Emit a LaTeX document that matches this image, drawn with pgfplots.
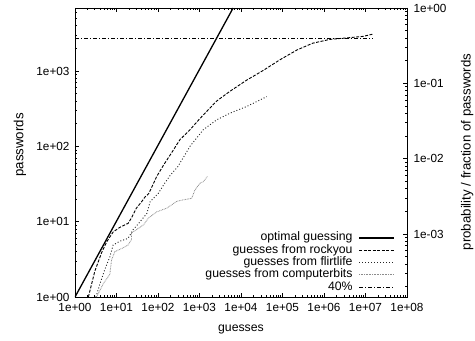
\documentclass[border=0pt]{standalone}
\usepackage{pgfplots}
\pgfplotsset{compat=1.18}
\usepackage{fontspec}
\setmainfont{Liberation Sans}

\pgfplotstableread{
x y
2.1 1
3.0 2.2
4.4 3.9
5.8 5.4
8.3 7.3
12 8.4
19 9.5
23 11.2
30 15.1
41 18.6
49 21.4
59 23.4
71 28.8
93 39.8
135 56
200 78
339 123
589 166
1023 234
2570 398
5370 537
13800 759
34700 1023
87100 1413
224000 1905
537000 2344
1380000 2630
3550000 2754
8700000 2884
15000000 3090
}\rockyou

\pgfplotstableread{
x y
3.2 1
4.0 1.5
5.2 2.3
6.9 3.4
8.3 4.9
12 5.5
19 6.0
25 7.8
37 10
54 12.9
65 18.6
100 23.4
145 32.4
200 41.7
300 53.7
589 100
1230 166
2570 224
5370 275
13800 339
41700 457
}\flirtlife

\pgfplotstableread{
x y
3.3 1
4.8 1.5
6.9 2.0
7.6 3.1
9.1 4.0
14.5 4.5
19 4.9
23 5.8
23 7.1
30 7.8
45 9.1
59 11.2
93 13.5
162 15.1
282 18.6
407 19.5
646 20.4
776 26.3
1023 32.4
1230 33.9
1550 39.8
}\computerbits

\begin{document}
\begin{tikzpicture}
\begin{axis}[
  scale only axis, width=332bp, height=289bp,
  xmode=log, ymode=log,
  xmin=1, xmax=1e8, ymin=1, ymax=6870,
  axis line style={line width=0.9bp},
  tick style={line width=0.6bp, black},
  tick align=inside,
  major tick length=4.5bp, minor tick length=2.5bp,
  xtick={1,10,100,1000,10000,100000,1000000,10000000,100000000},
  xticklabels={1e+00,1e+01,1e+02,1e+03,1e+04,1e+05,1e+06,1e+07,1e+08},
  minor xtick={2,3,4,5,6,7,8,9,20,30,40,50,60,70,80,90,200,300,400,500,600,700,800,900,2000,3000,4000,5000,6000,7000,8000,9000,20000,30000,40000,50000,60000,70000,80000,90000,200000,300000,400000,500000,600000,700000,800000,900000,2000000,3000000,4000000,5000000,6000000,7000000,8000000,9000000,20000000,30000000,40000000,50000000,60000000,70000000,80000000,90000000},
  ytick={1,10,100,1000},
  yticklabels={1e+00,1e+01,1e+02,1e+03},
  minor ytick={2,3,4,5,6,7,8,9,20,30,40,50,60,70,80,90,200,300,400,500,600,700,800,900,2000,3000,4000,5000,6000},
  ytick pos=left,
  xtick pos=both,
  tick label style={font=\fontsize{11.8}{13}\selectfont},
  xticklabel style={yshift=-3bp},
  yticklabel style={xshift=-2bp},
  xlabel={guesses},
  ylabel={passwords},
  every axis x label/.style={at={(axis description cs:0.5,-0.114)}, anchor=center, font=\fontsize{12.3}{14}\selectfont},
  every axis y label/.style={at={(axis description cs:-0.166,0.526)}, rotate=90, anchor=center, font=\fontsize{13.3}{15}\selectfont},
  legend plot pos=right,
  legend cell align=right,
  legend style={draw=none, fill=none, at={(rel axis cs:0.964,0.012)}, anchor=south east,
    font=\fontsize{12.3}{13}\selectfont, inner sep=0pt, row sep=0pt, column sep=6bp,
    nodes={inner sep=0pt, text height=9bp, text depth=3.3bp}},
  legend image code/.code={\draw[#1] (0bp,0bp) -- (35bp,0bp);},
]
\addplot[black, line width=1.3bp] coordinates {(1,1) (1000,1050) (6460,6870)};
\addlegendentry{optimal guessing}
\addplot[black, line width=0.9bp, dash pattern=on 3bp off 1.5bp] table[x=x,y=y] {\rockyou};
\addlegendentry{guesses from rockyou}
\addplot[black!85, line width=0.9bp, dash pattern=on 1bp off 2bp] table[x=x,y=y] {\flirtlife};
\addlegendentry{guesses from flirtlife}
\addplot[black!45, line width=0.8bp, dash pattern=on 0.8bp off 0.8bp] table[x=x,y=y] {\computerbits};
\addlegendentry{guesses from computerbits}
\addplot[black, line width=0.8bp, dash pattern=on 4bp off 2bp on 1bp off 2bp] coordinates {(1,2748) (15000000,2748)};
\addlegendentry{40\%}
\end{axis}
\begin{axis}[
  scale only axis, width=332bp, height=289bp,
  xmode=log, ymode=log,
  xmin=1, xmax=1e8, ymin=1.4556e-4, ymax=1,
  hide x axis,
  axis line style={line width=0.9bp},
  tick style={line width=0.6bp, black},
  tick align=inside,
  major tick length=4.5bp, minor tick length=2.5bp,
  ytick={0.001,0.01,0.1,1},
  yticklabels={1e-03,1e-02,1e-01,1e+00},
  minor ytick={0.0002,0.0003,0.0004,0.0005,0.0006,0.0007,0.0008,0.0009,0.002,0.003,0.004,0.005,0.006,0.007,0.008,0.009,0.02,0.03,0.04,0.05,0.06,0.07,0.08,0.09,0.2,0.3,0.4,0.5,0.6,0.7,0.8,0.9},
  ytick pos=right,
  yticklabel pos=right,
  tick label style={font=\fontsize{11.8}{13}\selectfont},
  yticklabel style={xshift=3bp},
  ylabel={probability / fraction of passwords},
  every axis y label/.style={at={(axis description cs:1.181,0.502)}, rotate=90, anchor=center, font=\fontsize{13.3}{15}\selectfont},
]
\end{axis}
\pgfresetboundingbox
\useasboundingbox (current axis.south west) ++(-75bp,-44bp) rectangle ++(475bp,341bp);
\end{tikzpicture}
\end{document}
